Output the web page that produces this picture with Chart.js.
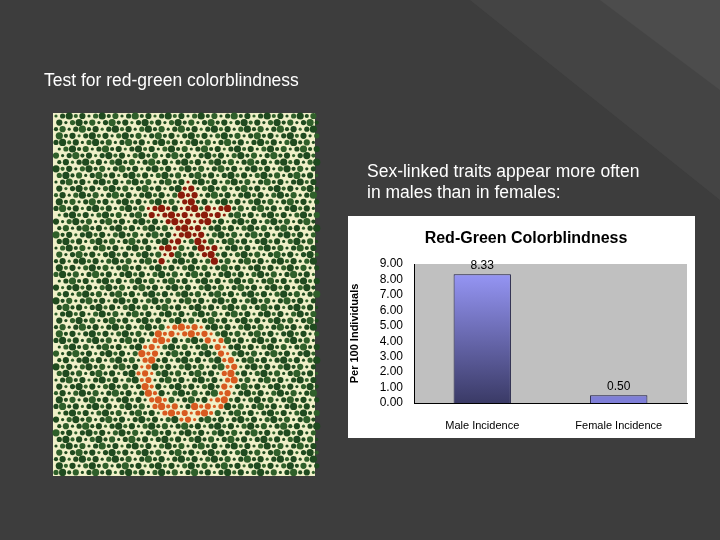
<!DOCTYPE html>
<html><head><meta charset="utf-8">
<script src="https://cdn.jsdelivr.net/npm/chart.js@4"></script>
<style>
body{margin:0;width:720px;height:540px;background:#3d3d3d;position:relative;overflow:hidden;font-family:"Liberation Sans",Arial,sans-serif}
#deco{position:absolute;left:0;top:0}
.t{position:absolute;color:#fff;font-size:17.5px;line-height:21px}
#box{position:absolute;left:348px;top:216px;width:347px;height:222px;background:#fff}
</style></head><body>
<canvas id="deco" width="720" height="540"></canvas>
<div class="t" style="left:44px;top:70px">Test for red-green colorblindness</div>
<div class="t" style="left:367px;top:161px">Sex-linked traits appear more often<br>in males than in females:</div>
<div id="box"><canvas id="c" width="347" height="222"></canvas></div>
<script>
const categories = ["Male Incidence", "Female Incidence"];
const incidence = [8.33, 0.50];
const yTicks = [0, 1, 2, 3, 4, 5, 6, 7, 8, 9];

// background shape + plate decoration
const d = document.getElementById('deco').getContext('2d');
d.fillStyle = '#444';
d.beginPath(); d.moveTo(470,0); d.lineTo(720,0); d.lineTo(720,200); d.closePath(); d.fill();
d.fillStyle = '#4c4c4c';
d.beginPath(); d.moveTo(600,0); d.lineTo(720,0); d.lineTo(720,90); d.closePath(); d.fill();
d.fillStyle = '#f0f0c8'; d.fillRect(53,113,262,363);
for (let i = 0; i < 40; i++) for (let j = 0; j < 55; j++) {
  const x = 56 + i*6.6 + (j%2)*3.3, y = 116 + j*6.6;
  const r = 1.6 + ((i*7 + j*13) % 5) * 0.5;
  const dx = x-188, dy = y-222, ang = Math.atan2(dy, dx), dist = Math.hypot(dx, dy);
  const star = dist < 14 + 34*Math.pow(Math.abs(Math.cos(2.5*(ang+Math.PI/2))), 4);
  const ring = Math.abs(Math.hypot(x-187, y-372) - 42) < 7;
  d.fillStyle = star ? '#8b1a0a' : ring ? '#d85a20' : ((i+j)%3 ? '#1f4a1f' : '#2f5f2a');
  d.beginPath(); d.arc(x, y, r, 0, Math.PI*2); d.fill();
}

const plotBg = {
  id: 'plotBg',
  beforeDraw(ch) {
    const a = ch.chartArea, g = ch.ctx;
    g.fillStyle = '#c0c0c0'; g.fillRect(a.left, a.top, a.right-a.left, a.bottom-a.top);
    g.fillStyle = '#000'; g.font = 'bold 16px "Liberation Sans", Arial';
    g.textAlign = 'center'; g.fillText('Red-Green Colorblindness', 178, 27);
  },
  afterDatasetsDraw(ch) {
    const g = ch.ctx;
    g.font = '12px "Liberation Sans", Arial'; g.fillStyle = '#000'; g.textAlign = 'center';
    ch.getDatasetMeta(0).data.forEach((b, i) => g.fillText(incidence[i].toFixed(2), b.x, b.y - 5));
  }
};

new Chart(document.getElementById('c'), {
  type: 'bar',
  data: {
    labels: categories,
    datasets: [{
      data: incidence,
      backgroundColor: ctx => {
        const a = ctx.chart.chartArea;
        if (!a) return '#8888ee';
        const gr = ctx.chart.ctx.createLinearGradient(0, a.top, 0, a.bottom);
        gr.addColorStop(0, '#9c9cff'); gr.addColorStop(1, '#3a3a66');
        return ctx.dataIndex === 0 ? gr : '#7f7fd8';
      },
      borderColor: '#1a1a40', borderWidth: 1,
      barPercentage: 0.42, categoryPercentage: 1
    }]
  },
  options: {
    responsive: false, animation: false,
    layout: { padding: { top: 48, right: 8, left: 0, bottom: 0 } },
    plugins: { legend: { display: false }, tooltip: { enabled: false } },
    scales: {
      x: {
        grid: { display: false }, border: { color: '#000' },
        ticks: { color: '#000', font: { size: 11, family: '"Liberation Sans", Arial' }, padding: 8 },
        afterFit: s => { s.height = 35; }
      },
      y: {
        min: 0, max: 9,
        afterBuildTicks: s => { s.ticks = yTicks.map(v => ({ value: v })); },
        grid: { display: false }, border: { color: '#000' },
        ticks: { color: '#000', autoSkip: false, font: { size: 12, family: '"Liberation Sans", Arial' }, callback: v => v.toFixed(2), padding: 3 },
        title: { display: true, text: 'Per 100 Individuals', color: '#000', font: { size: 11, weight: 'bold', family: '"Liberation Sans", Arial' }, padding: 0 },
        afterFit: s => { s.width = 66; }
      }
    }
  },
  plugins: [plotBg]
});
</script>
</body></html>
